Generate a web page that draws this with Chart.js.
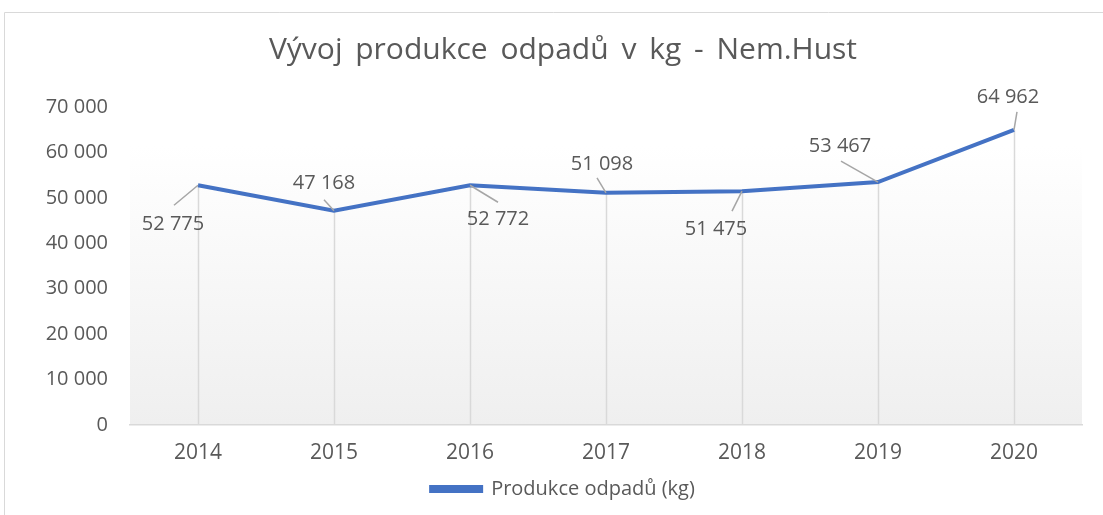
<!DOCTYPE html>
<html><head><meta charset="utf-8">
<script src="https://cdn.jsdelivr.net/npm/chart.js@4"></script>
<style>html,body{margin:0;padding:0;background:#fff;}#wrap{width:1103px;height:515px;position:relative;}</style>
</head><body><div id="wrap"><canvas id="c" width="1103" height="515"></canvas></div>
<script>
const categories = ['2014','2015','2016','2017','2018','2019','2020'];
const seriesName = 'Produkce odpadů (kg)';
const values = [52775, 47168, 52772, 51098, 51475, 53467, 64962];
const yTicks = [0,10000,20000,30000,40000,50000,60000,70000];
const titleText = 'Vývoj produkce odpadů v kg - Nem.Hust';

// label placement (pixel offsets of label centre from point, leader line end)
const labelPlace = [
  {dx:-25, dy:39, lx:-24, ly:20},
  {dx:-10, dy:-27, lx:-10, ly:-11},
  {dx:28, dy:34, lx:28, ly:17},
  {dx:-4, dy:-29, lx:-9, ly:-15},
  {dx:-26, dy:38, lx:-10, ly:20},
  {dx:-38, dy:-36, lx:-37, ly:-21},
  {dx:-6, dy:-33, lx:3, ly:-18}
];
const fmt = v => String(v).replace(/\B(?=(\d{3})+(?!\d))/g, '\u00a0');
const FONT = "'Open Sans', sans-serif";

const bgPlugin = {
  id:'bg',
  beforeDraw(chart){
    const {ctx, chartArea:a} = chart;
    ctx.save();
    const top = a.top + 38;
    const g = ctx.createLinearGradient(0, top, 0, a.bottom);
    g.addColorStop(0, '#ffffff');
    g.addColorStop(1, '#efefef');
    ctx.fillStyle = g;
    ctx.fillRect(a.left, top, a.right - a.left, a.bottom - top);
    ctx.strokeStyle = '#d9d9d9'; ctx.lineWidth = 1;
    ctx.beginPath(); ctx.moveTo(4.5, 515); ctx.lineTo(4.5, 12.5); ctx.lineTo(1103, 12.5); ctx.stroke();
    ctx.restore();
  },
  beforeDatasetsDraw(chart){
    const {ctx, chartArea:a} = chart;
    const meta = chart.getDatasetMeta(0);
    ctx.save();
    ctx.strokeStyle = '#d9d9d9'; ctx.lineWidth = 1.5;
    meta.data.forEach(p => {
      ctx.beginPath(); ctx.moveTo(Math.round(p.x)+0.5, p.y); ctx.lineTo(Math.round(p.x)+0.5, a.bottom); ctx.stroke();
    });
    ctx.restore();
  },
  afterDatasetsDraw(chart){
    const {ctx} = chart;
    const meta = chart.getDatasetMeta(0);
    ctx.save();
    meta.data.forEach((p,i) => {
      const L = labelPlace[i];
      ctx.strokeStyle = '#a6a6a6'; ctx.lineWidth = 1.5;
      ctx.beginPath(); ctx.moveTo(p.x, p.y); ctx.lineTo(p.x + L.lx, p.y + L.ly); ctx.stroke();
      ctx.fillStyle = '#595959';
      ctx.font = "20px " + FONT;
      ctx.textAlign = 'center'; ctx.textBaseline = 'middle';
      ctx.fillText(fmt(values[i]), p.x + L.dx, p.y + L.dy);
    });
    ctx.restore();
  },
  afterDraw(chart){
    const {ctx} = chart;
    ctx.save();
    if ('wordSpacing' in ctx) ctx.wordSpacing = '5px';
    ctx.fillStyle = '#595959';
    ctx.font = "30px " + FONT;
    ctx.textAlign = 'center'; ctx.textBaseline = 'middle';
    ctx.fillText(titleText, 563, 50);
    if ('wordSpacing' in ctx) ctx.wordSpacing = '0px';
    ctx.restore();
  }
};

new Chart(document.getElementById('c'), {
  type:'line',
  data:{ labels: categories, datasets:[{
    label: seriesName, data: values, borderColor:'#4472c4', backgroundColor:'#4472c4',
    borderWidth:4, pointRadius:0, tension:0, fill:false
  }]},
  options:{
    responsive:false, animation:false,
    layout:{ padding:{left:44, right:21, top:107, bottom:6} },
    plugins:{
      title:{ display:false },
      legend:{ position:'bottom', labels:{ color:'#595959', font:{family:FONT, size:20}, boxWidth:50, boxHeight:4, padding:10 } },
      tooltip:{enabled:false}
    },
    scales:{
      x:{ offset:true, grid:{display:false, drawTicks:false}, border:{color:'#d9d9d9', width:1.5},
          ticks:{ color:'#595959', font:{family:FONT, size:21}, padding:15 },
          afterFit(s){ s.height = 44; } },
      y:{ min:0, max:70000, grid:{display:false, drawTicks:false}, border:{display:false},
          afterBuildTicks(s){ s.ticks = yTicks.map(v=>({value:v})); },
          ticks:{ color:'#595959', font:{family:FONT, size:20}, padding:22, callback:v=>fmt(v) },
          afterFit(s){ s.width = 86; } }
    }
  },
  plugins:[bgPlugin]
});
</script></body></html>
